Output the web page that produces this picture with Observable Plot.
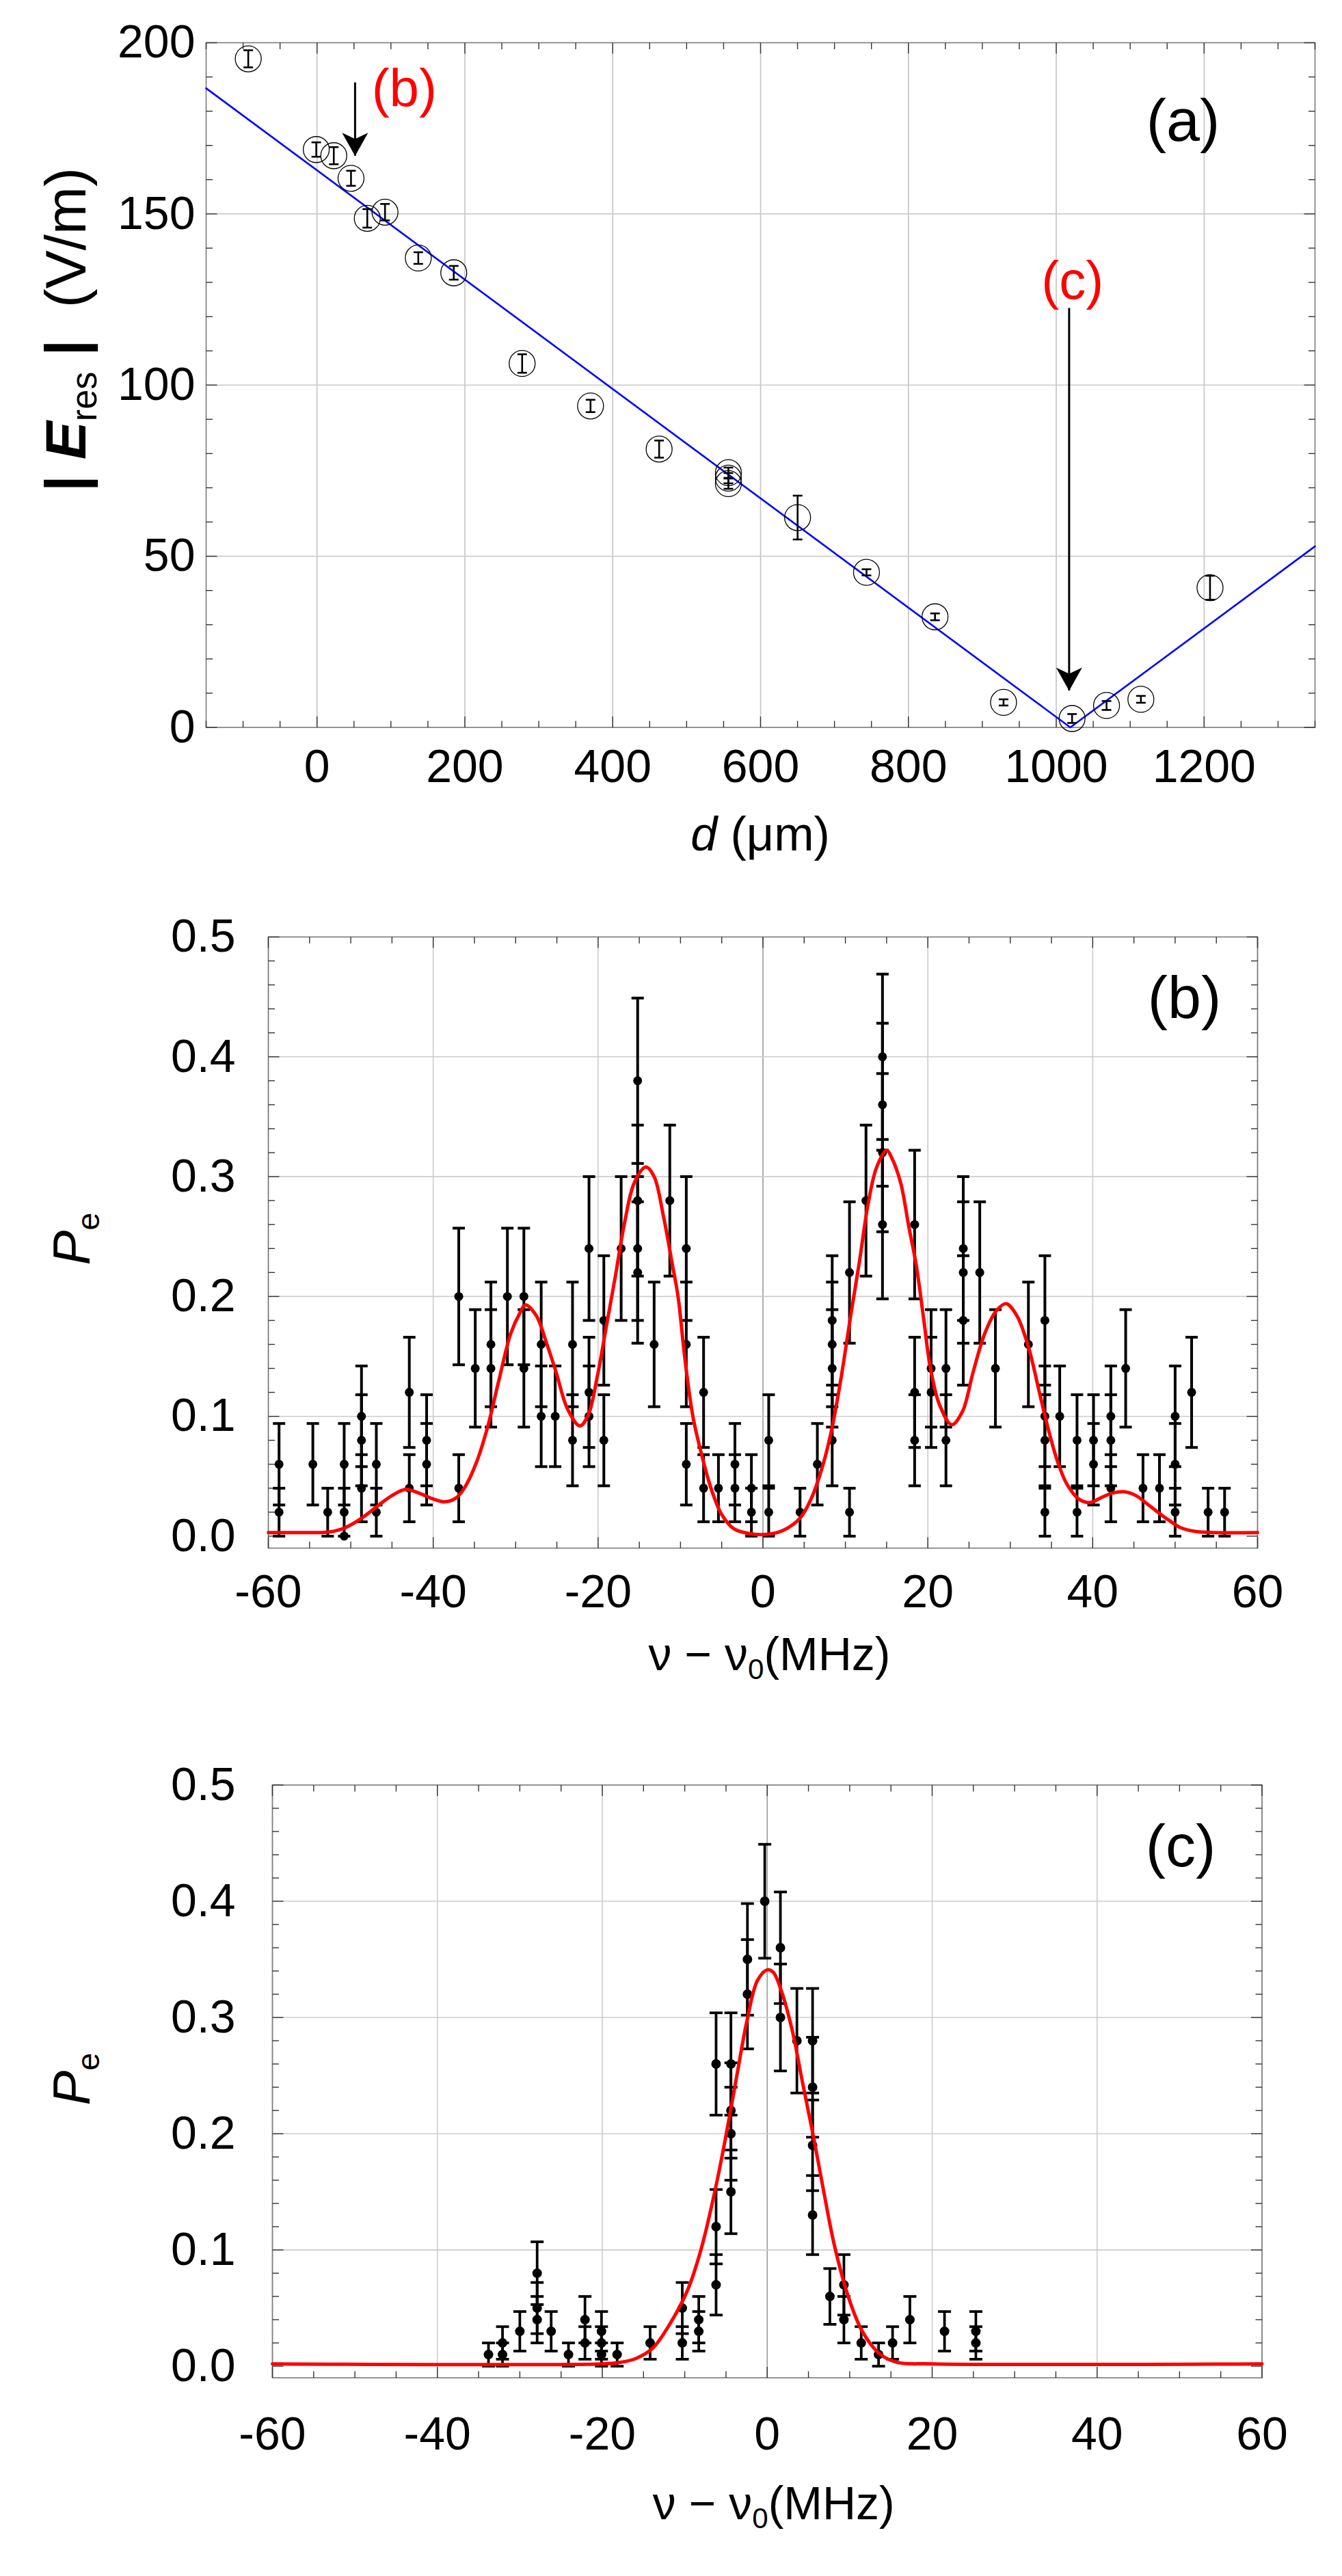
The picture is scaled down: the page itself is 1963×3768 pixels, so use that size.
<!DOCTYPE html>
<html>
<head>
<meta charset="utf-8">
<script src="https://cdn.jsdelivr.net/npm/d3@7"></script>
<script src="https://cdn.jsdelivr.net/npm/@observablehq/plot@0.6"></script>
<style>
  body { margin: 0; background: #fff; }
  #fig { position: relative; width: 1963px; height: 3768px; background: #fff; }
  #fig svg { position: absolute; left: 0; }
  .axis-title {
    position: absolute; white-space: pre; line-height: 1; color: #000;
    font-family: "Liberation Sans", Arial, Helvetica, sans-serif;
    transform: translate(-50%, -50%);
  }
  .axis-title.vertical { transform: translate(-50%, -50%) rotate(-90deg); }
  .axis-title .sub { position: relative; top: 0.3em; font-size: 62%; }
</style>
</head>
<body>
<div id="fig"></div>
<script>
// ---------- (a) resonant field amplitude vs. displacement ----------
const dUm     = [-93, -1, 22.7, 46, 68, 92, 137, 185, 277.5, 370, 462.8, 556.5, 556.5, 556.5, 650.1, 743.3, 836, 928.7, 1021.4, 1068, 1114.5, 1208];
const eRes    = [195.3, 168.8, 167.0, 160.4, 148.7, 150.5, 137.1, 132.8, 106.3, 93.9, 81.3, 74.4, 72.8, 71.2, 61.3, 45.3, 32.3, 7.3, 2.6, 6.4, 8.2, 40.8];
const eResErr = [2.5, 2.1, 2.5, 2.2, 2.7, 2.4, 1.7, 2.0, 2.7, 1.8, 2.5, 1.5, 1.5, 1.5, 6.4, 0.9, 1.0, 0.9, 1.3, 1.3, 1.0, 3.5];
// fitted |E| line (V shape), vertices
const fitD = [-150, 1019, 1350];
const fitE = [186.7, 0, 52.9];
// positions where spectra (b) and (c) were taken
const markLabel = ["(b)", "(c)"];
const markD     = [51.5, 1017.4];
const markFromE = [188.3, 122.4];
const markToE   = [166.9, 10.7];
const markTextD = [118, 1022];
const markTextE = [186.4, 130.2];
const dTicks = [0, 200, 400, 600, 800, 1000, 1200];
const eTicks = [0, 50, 100, 150, 200];

// ---------- (b) spectrum at d = 50 µm ----------
const nuB = [-58.7, -58.7, -54.6, -52.8, -50.8, -50.8, -50.8, -48.7, -48.7, -48.7, -46.9, -46.9,
  -42.9, -42.9, -40.8, -40.8, -36.9, -36.9, -34.9, -33.0, -33.0, -31.0, -29.0, -29.0,
  -26.9, -26.9, -25.2, -23.1, -23.1, -21.1, -21.1, -21.1, -19.3, -19.3, -17.2,
  -15.2, -15.2, -15.2, -15.2, -13.2, -11.3, -9.3, -9.3, -9.3, -7.2, -7.2, -5.4,
  -3.4, -3.4, -1.4, -1.4, 0.7, 0.7, 4.5, 6.6, 8.4, 8.4, 8.4, 8.4, 10.5, 10.5, 12.5,
  14.5, 14.5, 14.5, 14.5, 18.4, 18.4, 18.4, 20.4, 20.4, 22.2, 22.2, 24.3, 24.3, 24.3,
  26.3, 28.2, 32.2, 34.2, 34.2, 34.2, 34.2, 36.0, 38.1, 38.1, 40.1, 40.1,
  42.2, 42.2, 42.2, 44.0, 46.1, 48.1, 50.0, 50.0, 50.0, 52.0, 54.0, 56.0];
const pB = [0.06, 0.02, 0.06, 0.02, 0.06, 0.02, 0.00, 0.10, 0.08, 0.04, 0.06, 0.02,
  0.12, 0.04, 0.08, 0.06, 0.20, 0.04, 0.14, 0.16, 0.14, 0.20, 0.20, 0.14,
  0.16, 0.10, 0.10, 0.16, 0.08, 0.24, 0.12, 0.10, 0.18, 0.08, 0.24,
  0.38, 0.28, 0.24, 0.22, 0.16, 0.28, 0.24, 0.16, 0.06, 0.12, 0.04, 0.04,
  0.06, 0.04, 0.04, 0.02, 0.08, 0.02, 0.02, 0.06, 0.18, 0.16, 0.14, 0.08, 0.22, 0.02, 0.28,
  0.40, 0.36, 0.32, 0.26, 0.26, 0.12, 0.08, 0.14, 0.12, 0.14, 0.08, 0.24, 0.22, 0.18,
  0.22, 0.14, 0.16, 0.18, 0.10, 0.08, 0.02, 0.10, 0.08, 0.02, 0.08, 0.06,
  0.10, 0.08, 0.04, 0.14, 0.04, 0.04, 0.10, 0.06, 0.02, 0.12, 0.02, 0.02];
const errB = [0.034, 0.020, 0.034, 0.020, 0.034, 0.020, 0, 0.042, 0.038, 0.028, 0.034, 0.020,
  0.046, 0.028, 0.038, 0.034, 0.057, 0.028, 0.049, 0.052, 0.049, 0.057, 0.057, 0.049,
  0.052, 0.042, 0.042, 0.052, 0.038, 0.060, 0.046, 0.042, 0.054, 0.038, 0.060,
  0.069, 0.063, 0.060, 0.059, 0.052, 0.063, 0.060, 0.052, 0.034, 0.046, 0.028, 0.028,
  0.034, 0.028, 0.028, 0.020, 0.038, 0.020, 0.020, 0.034, 0.054, 0.052, 0.049, 0.038, 0.059, 0.020, 0.063,
  0.069, 0.068, 0.066, 0.062, 0.062, 0.046, 0.038, 0.049, 0.046, 0.049, 0.038, 0.060, 0.059, 0.054,
  0.059, 0.049, 0.052, 0.054, 0.042, 0.038, 0.020, 0.042, 0.038, 0.020, 0.038, 0.034,
  0.042, 0.038, 0.028, 0.049, 0.028, 0.028, 0.042, 0.034, 0.020, 0.046, 0.020, 0.020];
const fitNuB = [-60, -55, -52.7, -50.8, -48.7, -46.9, -45, -43.3, -41.7, -40, -38.6, -37.2, -36.1, -34.7,
  -33.4, -32, -30.6, -29.5, -28.8, -27.5, -26.2, -25.1, -23.7, -22.2, -21.2, -20.1, -19, -17.9, -16.8,
  -15.6, -14.2, -13.2, -12.1, -11, -10.3, -9.5, -8.5, -7.4, -6.3, -5, -3.5, -1.5, 0.5, 2.5, 4.5, 5.9,
  7.3, 8.4, 9.5, 10.6, 11.7, 12.8, 13.8, 15, 15.6, 16.7, 17.7, 18.6, 19.5, 20.3, 21.4, 22.9, 24.2,
  25.5, 26.9, 28.3, 29.5, 30.8, 32.2, 33.6, 34.7, 35.8, 36.9, 38.3, 39.6, 41, 42.4, 43.8, 45.2, 46.6,
  47.9, 49.3, 50.7, 52.4, 54.6, 60];
const fitPB = [0.003, 0.003, 0.0034, 0.0067, 0.0149, 0.0244, 0.0339, 0.039, 0.0358, 0.031, 0.0286, 0.032, 0.0415, 0.0625,
  0.091, 0.131, 0.169, 0.186, 0.193, 0.184, 0.16, 0.137, 0.106, 0.092, 0.101, 0.133, 0.175, 0.217, 0.261,
  0.295, 0.308, 0.300, 0.268, 0.227, 0.2, 0.15, 0.10, 0.067, 0.04, 0.018, 0.006, 0.002, 0.0015, 0.005, 0.015, 0.032,
  0.06, 0.091, 0.133, 0.182, 0.229, 0.279, 0.308, 0.322, 0.316, 0.295, 0.258, 0.226, 0.181, 0.141, 0.110, 0.093, 0.104,
  0.137, 0.169, 0.188, 0.194, 0.184, 0.158, 0.118, 0.087, 0.061, 0.043, 0.031, 0.028, 0.032, 0.036, 0.037, 0.034, 0.027,
  0.020, 0.013, 0.007, 0.004, 0.003, 0.003];

// ---------- (c) spectrum at the field minimum ----------
const nuC = [-33.8, -32.1, -32.1, -30.0, -27.9, -27.9, -27.9, -26.2, -24.1, -22.1, -22.1, -20.1, -20.1, -20.1,
  -18.2, -14.2, -10.3, -10.3, -8.3, -8.3, -6.2, -6.2, -6.2, -4.4, -4.4, -4.4, -4.4, -2.4, -2.4, -0.3,
  1.6, 1.6, 3.6, 5.5, 5.5, 5.5, 5.5, 7.6, 9.3, 9.3, 11.4, 13.5, 15.2, 17.3, 21.5, 25.3, 25.3];
const pC = [0.01, 0.02, 0.01, 0.03, 0.08, 0.05, 0.04, 0.03, 0.01, 0.04, 0.02, 0.03, 0.02, 0.01,
  0.01, 0.02, 0.05, 0.02, 0.04, 0.03, 0.26, 0.12, 0.07, 0.26, 0.22, 0.20, 0.15, 0.35, 0.32, 0.40,
  0.36, 0.30, 0.28, 0.28, 0.24, 0.19, 0.13, 0.06, 0.07, 0.04, 0.02, 0.01, 0.02, 0.04, 0.03, 0.03, 0.02];
const errC = [0.010, 0.014, 0.010, 0.017, 0.027, 0.022, 0.020, 0.017, 0.010, 0.020, 0.014, 0.017, 0.014, 0.010,
  0.010, 0.014, 0.022, 0.014, 0.020, 0.017, 0.044, 0.032, 0.026, 0.044, 0.041, 0.040, 0.036, 0.048, 0.047, 0.049,
  0.048, 0.046, 0.045, 0.045, 0.043, 0.039, 0.034, 0.024, 0.026, 0.020, 0.014, 0.010, 0.014, 0.020, 0.017, 0.017, 0.014];
const fitNuC = [-60, -20, -18.1, -16, -13.9, -11.8, -9.6, -7.95, -6.26, -5, -3.7, -2.45, -1.18, 0, 0.72,
  1.78, 3.05, 4.3, 5.58, 6.85, 8.1, 9.8, 11.5, 13.6, 15.7, 20, 60];
const fitPC = [0.002, 0.002, 0.003, 0.0064, 0.0154, 0.0364, 0.0664, 0.1024, 0.1534, 0.1984, 0.2494, 0.2974, 0.3319, 0.341, 0.339,
  0.3214, 0.2884, 0.2434, 0.1984, 0.1504, 0.1054, 0.0604, 0.0304, 0.0109, 0.0034, 0.002, 0.002];

const nuTicks = [-60, -40, -20, 0, 20, 40, 60];
const pTicks = [0, 0.1, 0.2, 0.3, 0.4, 0.5];

// ---------- shared drawing helpers ----------
const FONT = '"Liberation Sans", Arial, Helvetica, sans-serif';
const fig = document.getElementById("fig");

// symbols sized through r: the drawn half-length equals r
const capSymbol = {draw(ctx, size) { const l = Math.sqrt(size / Math.PI); ctx.moveTo(-l, 0); ctx.lineTo(l, 0); }};
const tickSymbol = (dx, dy) => ({draw(ctx, size) { const l = Math.sqrt(size / Math.PI); ctx.moveTo(0, 0); ctx.lineTo(dx * l, dy * l); }});
const TICK_UP = tickSymbol(0, -1), TICK_DOWN = tickSymbol(0, 1), TICK_RIGHT = tickSymbol(1, 0), TICK_LEFT = tickSymbol(-1, 0);
// filled arrow head pointing down, tip at the anchor point
const headSymbol = {draw(ctx) { ctx.moveTo(0, 0); ctx.lineTo(-19, -34); ctx.lineTo(0, -25); ctx.lineTo(19, -34); ctx.closePath(); }};

function stepsBetween(lo, hi, step, skip) {
  return d3.range(Math.ceil(lo / step - 1e-9) * step, hi + step / 2, step)
    .map(v => +v.toFixed(6))
    .filter(v => v <= hi + 1e-9 && !skip.some(s => Math.abs(s - v) < step / 10));
}

// inward frame ticks on all four sides
function frameTicks(xDom, yDom, xMajor, xMinor, yMajor, yMinor) {
  const st = {stroke: "#333", strokeWidth: 1.4, fill: "none"};
  const out = [];
  for (const [vals, r] of [[xMajor, 16], [xMinor, 9.5]]) {
    out.push(Plot.dot(vals, {x: d => d, y: () => yDom[0], symbol: TICK_UP, r, ...st}));
    out.push(Plot.dot(vals, {x: d => d, y: () => yDom[1], symbol: TICK_DOWN, r, ...st}));
  }
  for (const [vals, r] of [[yMajor, 16], [yMinor, 9.5]]) {
    out.push(Plot.dot(vals, {y: d => d, x: () => xDom[0], symbol: TICK_RIGHT, r, ...st}));
    out.push(Plot.dot(vals, {y: d => d, x: () => xDom[1], symbol: TICK_LEFT, r, ...st}));
  }
  return out;
}

function errorBars(rows, x, {width, cap}) {
  const withErr = rows.filter(r => r.err > 0);
  const st = {stroke: "black", strokeWidth: width};
  return [
    Plot.ruleX(withErr, {x, y1: r => r.y - r.err, y2: r => r.y + r.err, ...st}),
    Plot.dot(withErr, {x, y: r => r.y + r.err, symbol: capSymbol, r: cap, fill: "none", ...st}),
    Plot.dot(withErr, {x, y: r => r.y - r.err, symbol: capSymbol, r: cap, fill: "none", ...st})
  ];
}

// axis title as an HTML element centred on (x, y) in page pixels
function axisTitle({x, y, size, vertical = false, html}) {
  const el = document.createElement("div");
  el.className = "axis-title" + (vertical ? " vertical" : "");
  el.style.left = x + "px";
  el.style.top = y + "px";
  el.style.fontSize = size + "px";
  el.innerHTML = html;
  fig.appendChild(el);
}

function place(svg, top) {
  svg.style.top = top + "px";
  fig.appendChild(svg);
}

// ---------- panel (a) ----------
{
  const rows = dUm.map((d, i) => ({x: d, y: eRes[i], err: eResErr[i]}));
  const fit = fitD.map((d, i) => ({x: d, y: fitE[i]}));
  const marks = markD.map((d, i) => ({x: d, from: markFromE[i], to: markToE[i], label: markLabel[i], tx: markTextD[i], ty: markTextE[i]}));
  const xDom = [-150, 1350], yDom = [0, 200];
  const W = 1963, H = 1300, mt = 62, mb = 236.5, ml = 301, mr = 40;
  const svg = Plot.plot({
    width: W, height: H, marginTop: mt, marginBottom: mb, marginLeft: ml, marginRight: mr,
    style: {fontFamily: FONT, fontSize: "68px", color: "black", background: "transparent", overflow: "visible"},
    x: {domain: xDom, ticks: dTicks, tickSize: 0, tickPadding: 32, tickFormat: d => String(d), label: null},
    y: {domain: yDom, ticks: eTicks, tickSize: 0, tickPadding: 16, tickFormat: d => String(d), label: null},
    marks: [
      Plot.ruleX(dTicks, {stroke: "#c3c3c3", strokeWidth: 1.6}),
      Plot.ruleY(eTicks.filter(v => v > yDom[0] && v < yDom[1]), {stroke: "#cccccc", strokeWidth: 1.6}),
      Plot.frame({stroke: "#7a7a7a", strokeWidth: 1.6}),
      ...frameTicks(xDom, yDom, dTicks, stepsBetween(-150, 1350, 50, dTicks), eTicks, stepsBetween(0, 200, 10, eTicks)),
      Plot.line(fit, {x: "x", y: "y", stroke: "#0000ff", strokeWidth: 2.6}),
      ...errorBars(rows, "x", {width: 2.6, cap: 7}),
      Plot.dot(rows, {x: "x", y: "y", r: 19, stroke: "black", strokeWidth: 1.3, fill: "none"}),
      Plot.ruleX(marks, {x: "x", y1: "from", y2: "to", stroke: "black", strokeWidth: 3}),
      Plot.dot(marks, {x: "x", y: "to", symbol: headSymbol, r: 1, fill: "black", stroke: "none"}),
      Plot.text(marks, {x: "tx", y: "ty", text: "label", fill: "#ff0000", fontSize: 78}),
      Plot.text(["(a)"], {text: d => d, frameAnchor: "top-right", dx: -193, dy: 115, fontSize: 88, textAnchor: "middle", lineAnchor: "middle"})
    ]
  });
  place(svg, 0);
  axisTitle({x: ml + (W - ml - mr) / 2, y: 1220, size: 70, html: "<i>d</i> (\u03bcm)"});
  axisTitle({x: 96, y: 482, size: 84, vertical: true,
    html: "<b>| <i>E</i></b><span class=\"sub\">res</span><b> |</b>  (V/m)"});
}

// ---------- panels (b) and (c) ----------
function spectrumPanel({nu, p, err, fitNu, fitP, tag, top, H, mt, mb, ml, mr, xPad, yPad, tagDx, tagDy,
                        dotR, barW, cap, xTitleY, yTitleY}) {
  const rows = nu.map((v, i) => ({x: v, y: p[i], err: err[i]}));
  const fit = fitNu.map((v, i) => ({x: v, y: fitP[i]}));
  const xDom = [-60, 60], yDom = [-0.01, 0.5];
  const W = 1963;
  const svg = Plot.plot({
    width: W, height: H, marginTop: mt, marginBottom: mb, marginLeft: ml, marginRight: mr,
    style: {fontFamily: FONT, fontSize: "68px", color: "black", background: "transparent", overflow: "visible"},
    x: {domain: xDom, ticks: nuTicks, tickSize: 0, tickPadding: xPad, tickFormat: d => String(d), label: null},
    y: {domain: yDom, ticks: pTicks, tickSize: 0, tickPadding: yPad, tickFormat: d => d.toFixed(1), label: null},
    marks: [
      Plot.ruleX(nuTicks.filter(v => v !== 0), {stroke: "#cccccc", strokeWidth: 1.6}),
      Plot.ruleX([0], {stroke: "#9a9a9a", strokeWidth: 1.6}),
      Plot.ruleY(pTicks.filter(v => v > 0 && v < 0.5), {stroke: "#cccccc", strokeWidth: 1.6}),
      Plot.frame({stroke: "#7a7a7a", strokeWidth: 1.6}),
      ...frameTicks(xDom, yDom, nuTicks, stepsBetween(-60, 60, 5, nuTicks), pTicks, stepsBetween(0, 0.5, 0.02, pTicks)),
      ...errorBars(rows, "x", {width: barW, cap}),
      Plot.dot(rows, {x: "x", y: "y", r: dotR, fill: "black"}),
      Plot.line(fit, {x: "x", y: "y", stroke: "#ff0000", strokeWidth: 5, curve: "catmull-rom"}),
      Plot.text([tag], {text: d => d, frameAnchor: "top-right", dx: tagDx, dy: tagDy, fontSize: 88, textAnchor: "middle", lineAnchor: "middle"})
    ]
  });
  place(svg, top);
  axisTitle({x: ml + (W - ml - mr) / 2 + 10, y: top + xTitleY, size: 68,
    html: "\u03bd \u2212 \u03bd<span class=\"sub\">0</span>(MHz)"});
  axisTitle({x: 105, y: top + yTitleY, size: 76, vertical: true,
    html: "<i>P</i><span class=\"sub\">e</span>"});
}

spectrumPanel({nu: nuB, p: pB, err: errB, fitNu: fitNuB, fitP: fitPB, tag: "(b)",
  top: 1300, H: 1250, mt: 70, mb: 286, ml: 392, mr: 124, xPad: 38, yPad: 48, tagDx: -107, tagDy: 90,
  dotR: 6.5, barW: 4, cap: 9, xTitleY: 1119, yTitleY: 512});

spectrumPanel({nu: nuC, p: pC, err: errC, fitNu: fitNuC, fitP: fitPC, tag: "(c)",
  top: 2550, H: 1218, mt: 60.5, mb: 290.4, ml: 398, mr: 117.5, xPad: 57, yPad: 54, tagDx: -119, tagDy: 91,
  dotR: 7, barW: 3.8, cap: 9.5, xTitleY: 1111, yTitleY: 491});
</script>
</body>
</html>
